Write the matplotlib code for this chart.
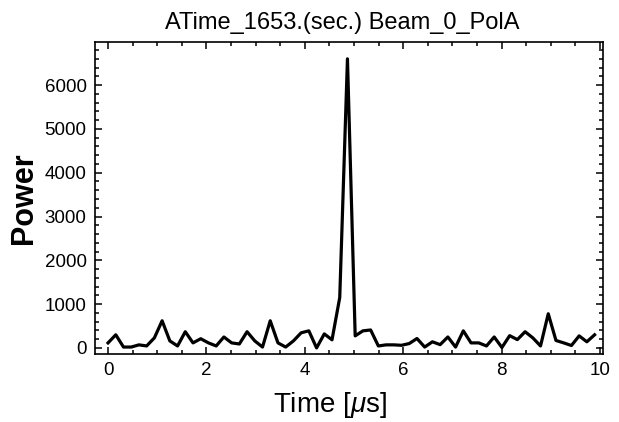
import numpy as np
import matplotlib
matplotlib.use('Agg')
import matplotlib.pyplot as plt
from matplotlib.ticker import MultipleLocator

plt.rcParams['font.family'] = ['Liberation Sans', 'DejaVu Sans']
plt.rcParams['mathtext.fontset'] = 'custom'
plt.rcParams['mathtext.it'] = 'Liberation Sans:italic'

# sample spacing in microseconds (64 samples)
dt = 0.157
power = [115, 300, 20, 20, 70, 45, 230, 620, 160, 45,
         370, 115, 210, 115, 45, 250, 115, 90, 370, 160,
         20, 620, 115, 20, 160, 345, 390, 0, 320, 185,
         1150, 6600, 275, 390, 410, 45, 70, 70, 60, 100,
         215, 20, 140, 75, 250, 20, 390, 115, 115, 45,
         250, 10, 280, 190, 370, 230, 45, 780, 170, 115,
         55, 275, 140, 300]
time_us = np.arange(len(power)) * dt

title = 'ATime_1653.(sec.) Beam_0_PolA'
xlabel = r'Time [$\mu$s]'
ylabel = 'Power'

fig = plt.figure(figsize=(6.19, 4.22), dpi=100)
ax = fig.add_axes([0.1535, 0.161, 0.8205, 0.7395])

ax.plot(time_us, power, color='black', linewidth=2.3, solid_joinstyle='round')

ax.set_xlim(-0.265, 10.06)
ax.set_ylim(-140, 6985)

ax.xaxis.set_major_locator(MultipleLocator(2))
ax.xaxis.set_minor_locator(MultipleLocator(0.5))
ax.yaxis.set_major_locator(MultipleLocator(1000))
ax.yaxis.set_minor_locator(MultipleLocator(200))

ax.tick_params(which='both', direction='in', top=True, right=True,
               width=1.1, labelsize=13.5, colors='black')
ax.tick_params(which='major', length=5, pad=6)
ax.tick_params(which='minor', length=3)
for s in ax.spines.values():
    s.set_linewidth(1.2)

ax.set_title(title, fontsize=17, pad=9, x=0.487)
ax.set_xlabel(xlabel, fontsize=20)
ax.xaxis.set_label_coords(0.463, -0.115)
ax.set_ylabel(ylabel, fontsize=22, fontweight='bold', labelpad=4)

fig.savefig('out.png', dpi=100)
